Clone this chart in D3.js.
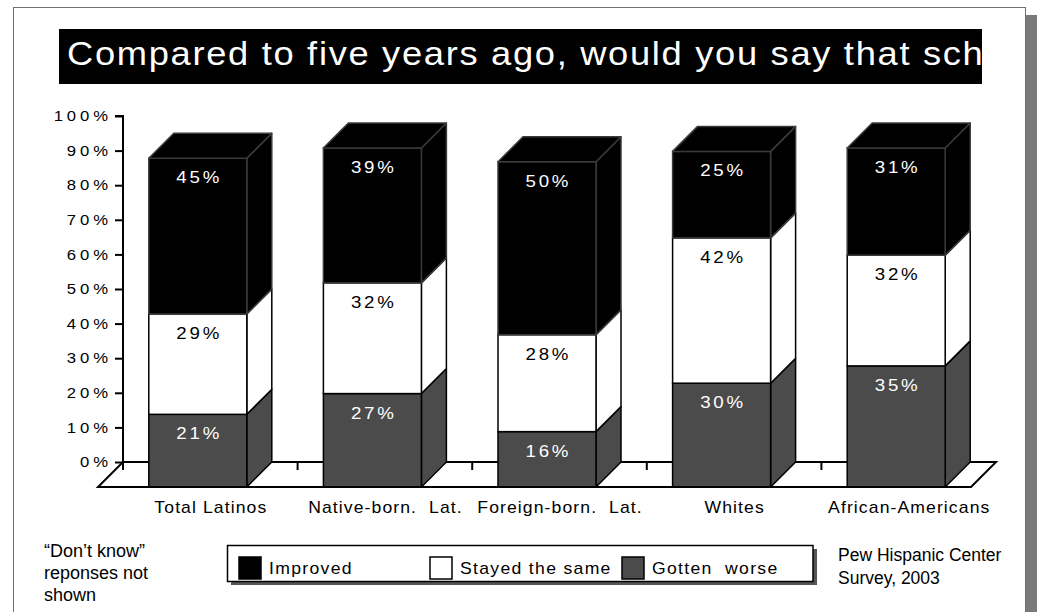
<!DOCTYPE html>
<html>
<head>
<meta charset="utf-8">
<script src="https://cdn.jsdelivr.net/npm/d3@7"></script>
<style>
  html, body { margin: 0; padding: 0; background: #fff; overflow: hidden; width: 1037px; height: 612px; }
  svg { display: block; position: fixed; left: 0; top: 0; font-family: "Liberation Sans", Arial, sans-serif; }
</style>
</head>
<body>
<svg id="chart" width="1037" height="612" viewBox="0 0 1037 612"></svg>
<script>
const titleText = "Compared to five years ago, would you say that schools in your area have improved, stayed the same, or gotten worse?";
const categories = ["Total Latinos", "Native-born.  Lat.", "Foreign-born.  Lat.", "Whites", "African-Americans"];
const gottenWorse = [21, 27, 16, 30, 35];
const stayedSame  = [29, 32, 28, 42, 32];
const improved    = [45, 39, 50, 25, 31];
const yTicks = [0, 10, 20, 30, 40, 50, 60, 70, 80, 90, 100];
const legendOrder = ["Improved", "Stayed the same", "Gotten  worse"];
const noteLines = ["\u201CDon\u2019t know\u201D", "reponses not", "shown"];
const sourceLines = ["Pew Hispanic Center", "Survey, 2003"];

const fills = { "Improved": "#000000", "Stayed the same": "#ffffff", "Gotten  worse": "#4b4b4b" };
const segName = { worse: "Gotten  worse", same: "Stayed the same", imp: "Improved" };
const labelColor = { "Improved": "#ffffff", "Stayed the same": "#000000", "Gotten  worse": "#ffffff" };
const edgeColor = { "Improved": "#3a3a3a", "Stayed the same": "#000000", "Gotten  worse": "#000000" };

const svg = d3.select("#chart");

function stext(parent, x, y, sx, ls, str, size, anchor) {
  anchor = anchor || "start";
  const dx = anchor === "middle" ? ls / 2 : anchor === "end" ? ls : 0;
  return parent.append("text")
    .attr("transform", `translate(${x},${y}) scale(${sx},1)`)
    .attr("dx", dx).attr("letter-spacing", ls)
    .attr("font-size", size).attr("text-anchor", anchor)
    .style("white-space", "pre").text(str);
}

// page shadow (right) + frame
svg.append("rect").attr("x", 1018).attr("y", 15).attr("width", 19).attr("height", 597).attr("fill", "#7a7a7a");
svg.append("rect").attr("x", 13.5).attr("y", 7.5).attr("width", 1012).attr("height", 620)
  .attr("fill", "#fff").attr("stroke", "#6e6e6e").attr("stroke-width", 1);

// title
svg.append("defs").append("clipPath").attr("id", "titleClip")
  .append("rect").attr("x", 59).attr("y", 29).attr("width", 923).attr("height", 55);
svg.append("rect").attr("x", 59).attr("y", 29).attr("width", 923).attr("height", 55).attr("fill", "#000");
const titleSize = 33, titleSx = 1.1;
const probeStr = "Compared to five years ago, would you say that sc";
const probe = svg.append("text").attr("font-size", titleSize).attr("visibility", "hidden").text(probeStr);
const natural = probe.node().getComputedTextLength();
probe.remove();
const titleLs = Math.max(0, ((963 - 67) / titleSx - natural) / probeStr.length);
const tg = svg.append("g").attr("clip-path", "url(#titleClip)");
stext(tg, 67, 65, titleSx, titleLs, titleText, titleSize).attr("fill", "#fff");

// scales
const depthX = 25, depthY = 25;
const x = d3.scaleBand().domain(categories).range([123, 996]).paddingInner(0).paddingOuter(0);
const y = d3.scaleLinear().domain([0, 100]).range([462, 116]);
const barW = 98;

// floor
const g = svg.append("g");
const x0 = x.range()[0], x1 = x.range()[1];
g.append("path")
  .attr("d", `M${x0},${y(0)} L${x1},${y(0)} L${x1 - depthX},${y(0) + depthY} L${x0 - depthX},${y(0) + depthY} Z`)
  .attr("fill", "#fff").attr("stroke", "#000").attr("stroke-width", 2);
g.selectAll("line.ft").data(categories).join("line").attr("class", "ft")
  .attr("x1", d => x(d)).attr("x2", d => x(d))
  .attr("y1", y(0)).attr("y2", y(0) + 8)
  .attr("stroke", "#000").attr("stroke-width", 2);

// y axis
const axSx = 1.15, axLs = 3.4, axPad = 7;
const yAxis = d3.axisLeft(y).tickValues(yTicks).tickFormat(d => d + "%").tickSize(8).tickPadding(axPad);
const ax = svg.append("g").attr("transform", `translate(${x0},0)`).call(yAxis);
ax.select(".domain").attr("stroke", "#000").attr("stroke-width", 2).attr("d", `M-8,${y(100)}H0V${y(0) + 8}`);
ax.selectAll(".tick line").attr("stroke", "#000").attr("stroke-width", 2);
ax.selectAll(".tick text").attr("font-size", 14.5).attr("fill", "#000")
  .attr("font-family", "Liberation Sans, Arial, sans-serif")
  .attr("x", null).attr("dx", axLs).attr("letter-spacing", axLs)
  .attr("transform", `translate(${-(8 + axPad)},0) scale(${axSx},1)`);

// bars
const rows = categories.map((c, i) => ({
  cat: c,
  segs: [
    { name: segName.worse, v: gottenWorse[i] },
    { name: segName.same, v: stayedSame[i] },
    { name: segName.imp, v: improved[i] }
  ]
}));
rows.forEach(r => {
  let acc = 0;
  r.segs.forEach(s => { s.y0 = acc; acc += s.v; s.y1 = acc; });
});

const bars = svg.append("g");
rows.forEach(r => {
  const cx = x(r.cat) + x.bandwidth() / 2;
  const fx0 = cx - barW / 2 - depthX / 2;
  const fx1 = fx0 + barW;
  const bg = bars.append("g");
  r.segs.forEach((s, k) => {
    const ft = y(s.y1) + depthY, fb = y(s.y0) + depthY;
    const col = fills[s.name], ec = edgeColor[s.name];
    bg.append("path")
      .attr("d", `M${fx1},${fb} L${fx1 + depthX},${fb - depthY} L${fx1 + depthX},${ft - depthY} L${fx1},${ft} Z`)
      .attr("fill", col).attr("stroke", ec).attr("stroke-width", 1.5).attr("stroke-linejoin", "round");
    bg.append("rect").attr("x", fx0).attr("y", ft).attr("width", barW).attr("height", fb - ft)
      .attr("fill", col).attr("stroke", ec).attr("stroke-width", 1.5);
    if (k === r.segs.length - 1) {
      bg.append("path")
        .attr("d", `M${fx0},${ft} L${fx0 + depthX},${ft - depthY} L${fx1 + depthX},${ft - depthY} L${fx1},${ft} Z`)
        .attr("fill", col).attr("stroke", ec).attr("stroke-width", 1.5).attr("stroke-linejoin", "round");
    }
  });
  bg.append("line").attr("x1", fx0).attr("x2", fx1).attr("y1", y(0) + depthY).attr("y2", y(0) + depthY)
    .attr("stroke", "#000").attr("stroke-width", 2);
  r.segs.forEach(s => {
    stext(bg, fx0 + barW / 2, y(s.y1) + depthY + 25, 1.1, 2.5, s.v + "%", 17, "middle")
      .attr("fill", labelColor[s.name]);
  });
});

// category labels
const cg = svg.append("g");
categories.forEach(c => {
  stext(cg, x(c) + x.bandwidth() / 2, 513, 1.1, 1.0, c, 16, "middle").attr("fill", "#000");
});

// note
svg.append("g").selectAll("text").data(noteLines).join("text")
  .attr("x", 44).attr("y", (d, i) => 557 + i * 22).attr("font-size", 18).attr("fill", "#000").text(d => d);

// source
svg.append("g").selectAll("text").data(sourceLines).join("text")
  .attr("x", 838).attr("y", (d, i) => 561 + i * 23).attr("font-size", 17.5).attr("fill", "#000").text(d => d);

// legend
const lg = svg.append("g");
lg.append("rect").attr("x", 231).attr("y", 549).attr("width", 586).attr("height", 36).attr("fill", "#555");
lg.append("rect").attr("x", 227.5).attr("y", 545.5).attr("width", 585.5).attr("height", 36)
  .attr("fill", "#fff").attr("stroke", "#000").attr("stroke-width", 1.5);
const legendX = { "Improved": 239, "Stayed the same": 430, "Gotten  worse": 622 };
legendOrder.forEach(n => {
  lg.append("rect").attr("x", legendX[n]).attr("y", 557).attr("width", 22).attr("height", 22)
    .attr("fill", fills[n]).attr("stroke", "#000").attr("stroke-width", 1.5);
  stext(lg, legendX[n] + 30, 574, 1.1, 1.2, n, 16).attr("fill", "#000");
});
</script>
</body>
</html>
